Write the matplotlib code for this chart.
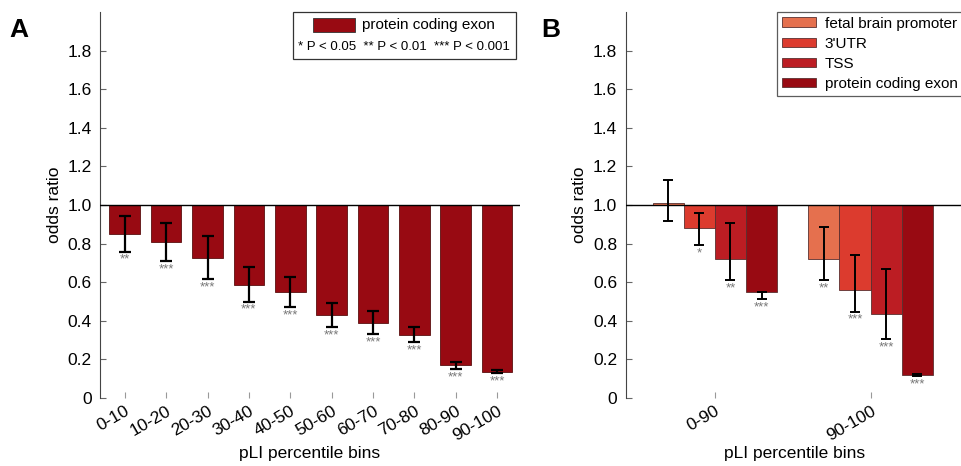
import numpy as np
import matplotlib
matplotlib.use("Agg")
import matplotlib.pyplot as plt
from matplotlib.patches import Rectangle
from matplotlib.offsetbox import (AnchoredOffsetbox, DrawingArea, HPacker,
                                  TextArea, VPacker)

plt.rcParams['font.family'] = ['Liberation Sans', 'DejaVu Sans']

# panel A: protein coding exon by pLI decile
bins_a = ['0-10', '10-20', '20-30', '30-40', '40-50',
          '50-60', '60-70', '70-80', '80-90', '90-100']
or_a = [0.848, 0.807, 0.728, 0.586, 0.547, 0.428, 0.386, 0.328, 0.169, 0.136]
lo_a = [0.759, 0.709, 0.617, 0.500, 0.469, 0.369, 0.329, 0.288, 0.150, 0.129]
hi_a = [0.943, 0.909, 0.840, 0.681, 0.629, 0.490, 0.452, 0.367, 0.186, 0.145]
sig_a = ['**', '***', '***', '***', '***', '***', '***', '***', '***', '***']

# panel B: four annotations, two pLI bins
bins_b = ['0-90', '90-100']
series_b = ['fetal brain promoter', "3'UTR", 'TSS', 'protein coding exon']
or_b = [[1.009, 0.719], [0.883, 0.560], [0.719, 0.436], [0.547, 0.117]]
lo_b = [[0.917, 0.609], [0.793, 0.448], [0.609, 0.305], [0.514, 0.112]]
hi_b = [[1.130, 0.884], [0.957, 0.741], [0.905, 0.669], [0.548, 0.126]]
sig_b = [['', '**'], ['*', '***'], ['**', '***'], ['***', '***']]

colors_b = ['#E5704E', '#DC3B2E', '#BC1D23', '#980A12']
dark = '#980A12'
FS = 12.5

fig = plt.figure(figsize=(9.61, 4.66), dpi=100)
ax1 = fig.add_axes([0.104, 0.146, 0.437, 0.828])
ax2 = fig.add_axes([0.651, 0.146, 0.352, 0.828])


def style(ax):
    ax.set_ylim(0, 2.0)
    ax.set_yticks(np.arange(0, 1.81, 0.2))
    ax.set_yticklabels(['0'] + ['%.1f' % v for v in np.arange(0.2, 1.81, 0.2)])
    for s in ['top', 'right', 'bottom']:
        ax.spines[s].set_visible(False)
    ax.spines['left'].set_color('#444444')
    ax.tick_params(axis='y', direction='in', length=4, color='#666666',
                   labelsize=FS, pad=6)
    ax.tick_params(axis='x', direction='in', length=4, color='#999999',
                   labelsize=FS, pad=4)
    ax.axhline(1.0, color='black', lw=1.0, zorder=5)
    ax.set_ylabel('odds ratio', fontsize=FS, labelpad=4)
    ax.set_xlabel('pLI percentile bins', fontsize=FS, labelpad=2)


# ---- panel A
x = np.arange(1, len(bins_a) + 1)
h = np.array(or_a) - 1
ax1.bar(x, h, bottom=1, width=0.74, color=dark, edgecolor='#5a1010',
        lw=0.6, zorder=2)
ax1.errorbar(x, or_a, yerr=[np.array(or_a) - lo_a, np.array(hi_a) - or_a],
             fmt='none', ecolor='black', elinewidth=1.6, capsize=4,
             capthick=1.6, zorder=4)
for xi, lo, s in zip(x, lo_a, sig_a):
    ax1.text(xi, lo - 0.012, s, ha='center', va='top', fontsize=9.5,
             color='#777777')
ax1.set_xlim(0.4, 10.55)
ax1.set_xticks(x)
ax1.set_xticklabels(bins_a, rotation=30, ha='right', rotation_mode='anchor')
style(ax1)

patch_box = DrawingArea(30, 10, 0, 0)
patch_box.add_artist(Rectangle((0, 0), 30, 10, fc=dark, ec='#333333', lw=0.6))
row1 = HPacker(children=[patch_box,
                         TextArea('protein coding exon',
                                  textprops=dict(fontsize=11))],
               align='center', pad=0, sep=5)
row2 = TextArea('* P < 0.05  ** P < 0.01  *** P < 0.001',
                textprops=dict(fontsize=9.5))
box = VPacker(children=[row1, row2], align='center', pad=0, sep=7)
anch = AnchoredOffsetbox(loc='upper right', child=box, pad=0.4,
                         borderpad=0.0, frameon=True,
                         bbox_to_anchor=(0.99, 1.0),
                         bbox_transform=ax1.transAxes)
anch.patch.set_edgecolor('#333333')
anch.patch.set_linewidth(0.9)
ax1.add_artist(anch)
ax1.text(-0.215, 0.985, 'A', transform=ax1.transAxes, fontsize=19,
         fontweight='bold', va='top', ha='left')

# ---- panel B
gx = np.arange(1, len(bins_b) + 1)
w = 0.2
for i, (name, c) in enumerate(zip(series_b, colors_b)):
    xs = gx + (i - 1.5) * w
    vals = np.array(or_b[i])
    ax2.bar(xs, vals - 1, bottom=1, width=w, color=c, edgecolor='#5a3030',
            lw=0.6, zorder=2, label=name)
    ax2.errorbar(xs, vals, yerr=[vals - lo_b[i], np.array(hi_b[i]) - vals],
                 fmt='none', ecolor='black', elinewidth=1.4, capsize=3.5,
                 capthick=1.4, zorder=4)
    for xi, lo, s in zip(xs, lo_b[i], sig_b[i]):
        if s:
            ax2.text(xi, lo - 0.012, s, ha='center', va='top', fontsize=9.5,
                     color='#777777')
ax2.set_xlim(0.426, 2.6)
ax2.set_xticks(gx)
ax2.set_xticklabels(bins_b, rotation=30, ha='right', rotation_mode='anchor')
style(ax2)
leg = ax2.legend(loc='upper right', bbox_to_anchor=(0.995, 1.0), fontsize=11,
                 frameon=True, fancybox=False, handlelength=2.2,
                 handleheight=0.6, handletextpad=0.6, labelspacing=0.4,
                 borderpad=0.3, borderaxespad=0.0)
leg.get_frame().set_edgecolor('#333333')
leg.get_frame().set_linewidth(0.9)
ax2.text(-0.25, 0.985, 'B', transform=ax2.transAxes, fontsize=19,
         fontweight='bold', va='top', ha='left')

fig.savefig('out.png', dpi=100)
